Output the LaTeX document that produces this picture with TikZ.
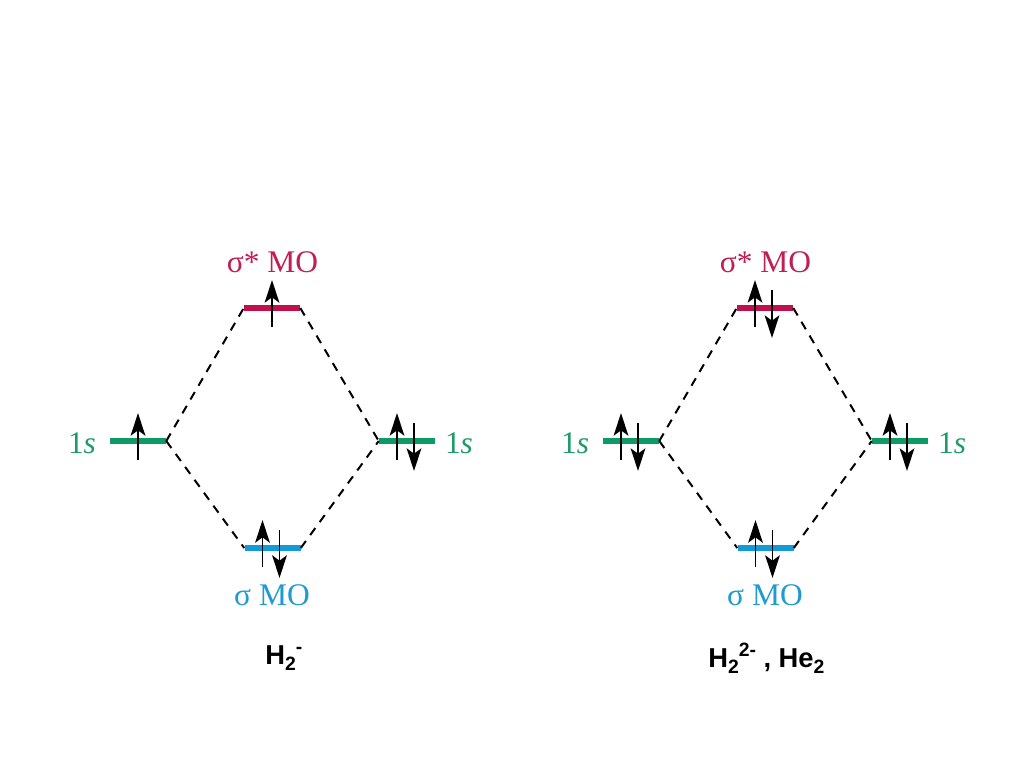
\documentclass[tikz,border=0pt]{standalone}
\usepackage{fontspec}
\setmainfont{Liberation Serif}
\newfontfamily\headfont{Liberation Sans}
\usetikzlibrary{calc,arrows.meta}
\definecolor{aogreen}{HTML}{0E9A66}
\definecolor{starred}{HTML}{C1104C}
\definecolor{sigblue}{HTML}{129BD6}
\definecolor{aotext}{HTML}{1F9A69}
\definecolor{startext}{HTML}{C01E55}
\definecolor{sigtext}{HTML}{1F9AD2}
\tikzset{
  level/.style={inner sep=0pt,minimum width=42pt,minimum height=4.2pt,fill=#1},
  link/.style={black,line width=1.5pt,dash pattern=on 6.5pt off 5.5pt},
  electron/.style={black,line width=1.4pt,-{Stealth[length=17pt,width=11pt,inset=4pt]}},
  lab/.style={anchor=base,inner sep=0pt,font=\fontsize{23.6}{25}\selectfont,text=#1},
  formula/.style={anchor=base west,inner sep=0pt,font=\headfont\bfseries\fontsize{20.5}{23}\selectfont,text=black}
}
\newcommand{\lowtwo}{\raisebox{-4.5pt}{\fontsize{14.5}{15}\selectfont 2}}
\newcommand{\hightext}[1]{\raisebox{8pt}{\fontsize{14.5}{15}\selectfont #1}}
\newcommand{\spinup}[2]{\draw[electron] ($(#1.center)+(#2,19)$) -- ($(#1.center)+(#2,-28)$);}
\newcommand{\spindown}[2]{\draw[electron] ($(#1.center)+(#2,-18)$) -- ($(#1.center)+(#2,30)$);}
\begin{document}
\begin{tikzpicture}[x=0.75pt,y=-0.75pt]
\useasboundingbox (0,0) rectangle (1024,768);
% levels and their links, both diagrams
\foreach \p/\d in {a/0,b/493}{
  \begin{scope}[shift={(\d,0)}]
    \node[level=aogreen] (\p l) at (138,441) {};
    \node[level=aogreen] (\p r) at (407,441) {};
    \node[level=starred] (\p t) at (272,308) {};
    \node[level=sigblue] (\p b) at (272.5,548) {};
    \draw[link] (\p l.east) -- (\p t.west);
    \draw[link] (\p t.east) -- (\p r.west);
    \draw[link] (\p l.east) -- (\p b.west);
    \draw[link] (\p b.east) -- (\p r.west);
    \node[lab=startext] (\p tl) at (272.5,272) {σ* MO};
    \node[lab=sigtext] (\p bl) at (272,605) {σ MO};
    \node[lab=aotext] (\p ll) at (82,453) {1\textit{s}};
    \node[lab=aotext] (\p rl) at (459,453) {1\textit{s}};
  \end{scope}
}
% electrons, left diagram
\spinup{al}{0}
\spinup{at}{0}
\spinup{ar}{-10}\spindown{ar}{7}
\spinup{ab}{-10}\spindown{ab}{7}
% electrons, right diagram
\spinup{bl}{-10}\spindown{bl}{7}
\spinup{bt}{-10}\spindown{bt}{7}
\spinup{br}{-10}\spindown{br}{7}
\spinup{bb}{-10}\spindown{bb}{7}
% formulas
\node[formula] (fa) at (265,664) {H\lowtwo\hightext{-}};
\node[formula] (fb) at (708,667) {H\lowtwo\hightext{2-} , He\lowtwo};
\end{tikzpicture}
\end{document}
